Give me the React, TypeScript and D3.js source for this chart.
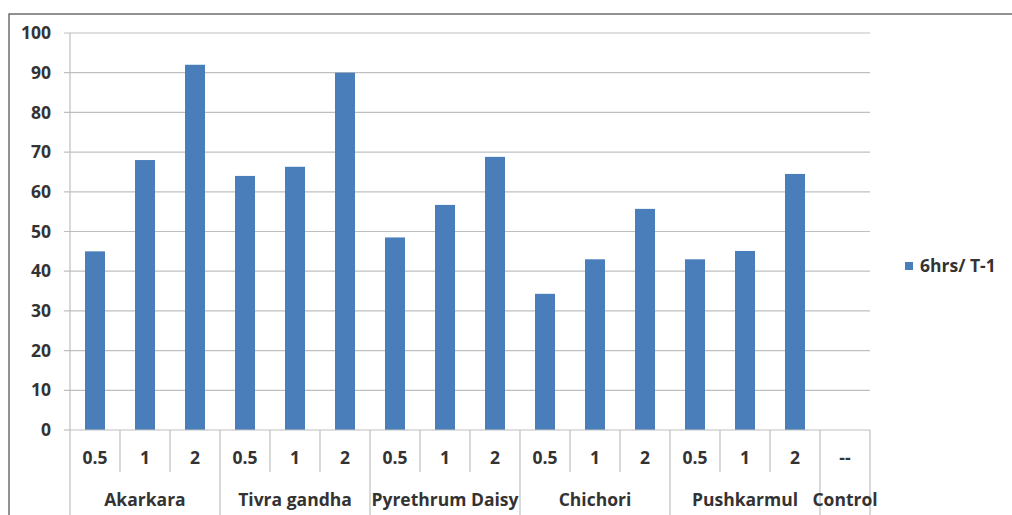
import React from "react";
import * as d3 from "d3";

// Extract groups, dose levels (per group) and mortality values
const groups = ["Akarkara", "Tivra gandha", "Pyrethrum Daisy", "Chichori", "Pushkarmul", "Control"];
const doses = [
  ["0.5", "1", "2"],
  ["0.5", "1", "2"],
  ["0.5", "1", "2"],
  ["0.5", "1", "2"],
  ["0.5", "1", "2"],
  ["--"],
];
const values: (number | null)[][] = [
  [45, 68, 92],
  [64, 66.3, 90],
  [48.5, 56.7, 68.8],
  [34.3, 43, 55.7],
  [43, 45.1, 64.5],
  [null],
];
const seriesName = "6hrs/ T-1";
const yTicks = [0, 10, 20, 30, 40, 50, 60, 70, 80, 90, 100];

const W = 1012;
const H = 515;
const plot = { left: 70, right: 870, top: 33, bottom: 430 };
const FONT = "'Open Sans', 'Liberation Sans', Arial, sans-serif";
const FS = 17.5;
const TEXT = "#333";
const BAR = "#4a7ebb";
const GRID = "#bfbfbf";

export default function App() {
  const slots = groups.flatMap((g, gi) =>
    doses[gi].map((d, di) => ({ key: `${gi}-${di}`, group: g, gi, dose: d, value: values[gi][di] }))
  );
  const x = d3.scaleBand<string>().domain(slots.map((s) => s.key)).range([plot.left, plot.right]).padding(0);
  const y = d3.scaleLinear().domain([0, 100]).range([plot.bottom, plot.top]);
  const bw = x.bandwidth();
  const barW = bw * 0.4;

  // Group extents along the category axis
  const groupSpans = groups.map((g, gi) => {
    const keys = slots.filter((s) => s.gi === gi).map((s) => s.key);
    const x0 = x(keys[0])!;
    const x1 = x(keys[keys.length - 1])! + bw;
    return { g, x0, x1 };
  });

  return (
    <svg
      width={W}
      height={H}
      style={{ position: "absolute", left: 0, top: 0, background: "#fff" }}
      fontFamily={FONT}
    >
      <rect x={9} y={14} width={W + 10} height={H + 10} fill="#fff" stroke="#6e6e6e" strokeWidth={1.5} />

      {/* horizontal gridlines and y tick marks */}
      {yTicks.map((t) => (
        <g key={t}>
          <line x1={plot.left - 6} x2={t === 0 ? plot.left : plot.right} y1={y(t)} y2={y(t)} stroke={GRID} strokeWidth={1.2} />
          <text x={51} y={y(t)} dy="0.35em" textAnchor="end" fontSize={FS} fontWeight="bold" fill={TEXT}>
            {t}
          </text>
        </g>
      ))}

      {/* y axis */}
      <line x1={plot.left} x2={plot.left} y1={plot.top} y2={H} stroke={GRID} strokeWidth={1.2} />

      {/* bars */}
      {slots.map((s) =>
        s.value == null ? null : (
          <rect
            key={s.key}
            x={x(s.key)! + (bw - barW) / 2}
            y={y(s.value)}
            width={barW}
            height={y(0) - y(s.value)}
            fill={BAR}
          />
        )
      )}

      {/* category axis line */}
      <line x1={plot.left} x2={plot.right} y1={plot.bottom} y2={plot.bottom} stroke={GRID} strokeWidth={1.2} />

      {/* dose separators; group boundaries run to the bottom */}
      {slots.map((s, i) => {
        if (i === 0) return null;
        const xx = x(s.key)!;
        const isGroupStart = slots[i - 1].gi !== s.gi;
        return (
          <line key={`sep-${s.key}`} x1={xx} x2={xx} y1={plot.bottom} y2={isGroupStart ? H : 472} stroke={GRID} strokeWidth={1.2} />
        );
      })}
      <line x1={plot.right} x2={plot.right} y1={plot.bottom} y2={H} stroke={GRID} strokeWidth={1.2} />

      {/* dose labels */}
      {slots.map((s) => (
        <text
          key={`dl-${s.key}`}
          x={x(s.key)! + bw / 2}
          y={458}
          dy="0.35em"
          textAnchor="middle"
          fontSize={FS}
          fontWeight="bold"
          fill={TEXT}
        >
          {s.dose}
        </text>
      ))}

      {/* group labels */}
      {groupSpans.map((gs) => (
        <text
          key={`gl-${gs.g}`}
          x={(gs.x0 + gs.x1) / 2}
          y={500}
          dy="0.35em"
          textAnchor="middle"
          fontSize={FS}
          fontWeight="bold"
          fill={TEXT}
        >
          {gs.g}
        </text>
      ))}

      {/* legend */}
      <rect x={905} y={262} width={8} height={8} fill={BAR} />
      <text x={920} y={266} dy="0.35em" fontSize={FS} fontWeight="bold" fill={TEXT}>
        {seriesName}
      </text>
    </svg>
  );
}
